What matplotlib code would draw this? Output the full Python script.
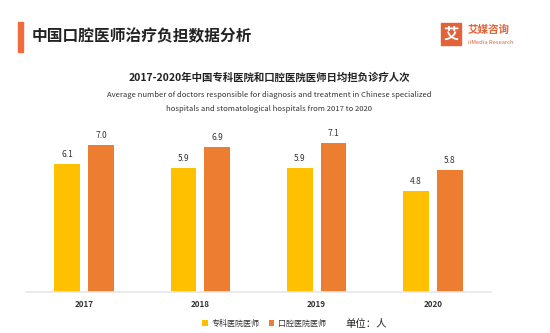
import matplotlib
matplotlib.use("Agg")
import matplotlib.pyplot as plt
import numpy as np
from matplotlib.patches import Rectangle

plt.rcParams['font.family'] = ['Noto Sans CJK SC', 'DejaVu Sans']

years = ['2017', '2018', '2019', '2020']
specialized = [6.1, 5.9, 5.9, 4.8]
stomatological = [7.0, 6.9, 7.1, 5.8]
series_names = ['专科医院医师', '口腔医院医师']

c_yellow = '#FFC000'
c_orange = '#ED7D31'

fig = plt.figure(figsize=(5.5, 3.33), dpi=100)
W, H = 550, 333

ax = fig.add_axes([26 / W, 1 - 292 / H, 465 / W, 163 / H])
x = np.arange(len(years))
bw = 0.22
off = 0.145
b1 = ax.bar(x - off, specialized, bw, color=c_yellow, label=series_names[0])
b2 = ax.bar(x + off, stomatological, bw, color=c_orange, label=series_names[1])
for bars, vals in ((b1, specialized), (b2, stomatological)):
    for r, v in zip(bars, vals):
        ax.annotate(f'{v:.1f}', (r.get_x() + r.get_width() / 2, v),
                    xytext=(0, 3.5), textcoords='offset points',
                    ha='center', va='bottom', fontsize=6, color='#333333')
ax.set_xlim(-0.5, 3.5)
ax.set_ylim(0, 7.76)
ax.set_xticks(x)
ax.set_xticklabels(years, fontsize=5.8, color='#333333', fontweight='bold')
ax.tick_params(axis='x', length=0, pad=5.5)
ax.set_yticks([])
for s in ['top', 'right', 'left']:
    ax.spines[s].set_visible(False)
ax.spines['bottom'].set_color('#e6e6e6')
ax.spines['bottom'].set_linewidth(1.2)

# Header
fig.patches.append(Rectangle((18 / W, 1 - 52 / H), 5 / W, 30 / H,
                             transform=fig.transFigure, color='#F26B3A'))
fig.text(32 / W, 1 - 36 / H, '中国口腔医师治疗负担数据分析', fontsize=11.3,
         fontweight='bold', color='#222222', va='center', ha='left')

# Logo
fig.patches.append(Rectangle((441 / W, 1 - 45 / H), 20 / W, 22 / H,
                             transform=fig.transFigure, color='#E2633A'))
fig.text(451 / W, 1 - 34 / H, '艾', fontsize=11, fontweight='bold',
         color='white', ha='center', va='center')
fig.text(468 / W, 1 - 30 / H, '艾媒咨询', fontsize=7.6, fontweight='bold',
         color='#E2633A', ha='left', va='center')
fig.text(468 / W, 1 - 42 / H, 'iiMedia Research', fontsize=4.2,
         color='#E2633A', ha='left', va='center')

# Chart titles
fig.text(269 / W, 1 - 78 / H, '2017-2020年中国专科医院和口腔医院医师日均担负诊疗人次',
         fontsize=7.5, fontweight='bold', color='#222222', ha='center', va='center')
fig.text(269 / W, 1 - 95 / H,
         'Average number of doctors responsible for diagnosis and treatment in Chinese specialized',
         fontsize=5.55, color='#333333', ha='center', va='center')
fig.text(269 / W, 1 - 109 / H,
         'hospitals and stomatological hospitals from 2017 to 2020',
         fontsize=5.55, color='#333333', ha='center', va='center')

# Legend
leg = fig.legend(handles=[b1, b2], labels=series_names, loc='center',
                 bbox_to_anchor=(264 / W, 1 - 323 / H), ncol=2, frameon=False,
                 fontsize=5.8, handlelength=0.7, handleheight=0.7,
                 columnspacing=1.2, handletextpad=0.4)
for t in leg.get_texts():
    t.set_color('#333333')
fig.text(345 / W, 1 - 324 / H, '单位：人', fontsize=7.5, color='#222222',
         ha='left', va='center')

fig.savefig('out.png', dpi=100)
